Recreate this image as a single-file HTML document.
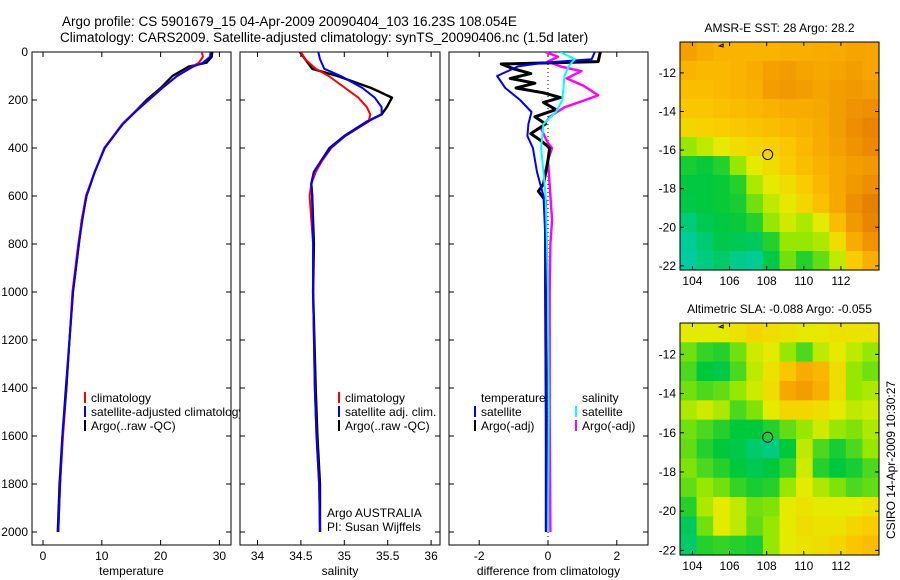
<!DOCTYPE html>
<html><head><meta charset="utf-8"><title>Argo profile</title>
<style>
html,body{margin:0;padding:0;background:#fff;}
svg{display:block;font-family:"Liberation Sans",Arial,sans-serif;}
text{fill:#000;}
</style></head>
<body>
<svg id="fig" width="900" height="580" viewBox="0 0 900 580" xmlns="http://www.w3.org/2000/svg">
<defs>
<clipPath id="clipL"><rect x="0" y="0" width="240" height="580"/></clipPath>
<clipPath id="cp1"><rect x="32" y="52" width="199" height="493"/></clipPath>
<clipPath id="cp2"><rect x="240" y="52" width="200" height="493"/></clipPath>
<clipPath id="cp3"><rect x="449" y="52" width="199" height="493"/></clipPath>
</defs>
<text x="62" y="26" font-size="13.5">Argo profile: CS 5901679_15 04-Apr-2009 20090404_103 16.23S 108.054E</text>
<text x="60" y="42" font-size="13.5">Climatology: CARS2009. Satellite-adjusted climatology: synTS_20090406.nc (1.5d later)</text>
<g id="panels"></g>
<g id="maps"></g>
<text transform="translate(895,460) rotate(-90)" text-anchor="middle" font-size="12">CSIRO 14-Apr-2009 10:30:27</text>
</svg>
<script>
// ---------- data ----------
const depthTicks = [0,200,400,600,800,1000,1200,1400,1600,1800,2000];
const tempTicks = [0,10,20,30];
const salTicks = [34,34.5,35,35.5,36];
const salTickLabels = ['34','34.5','35','35.5','36'];
const diffTicks = [-2,0,2];

const tDepth = [0,20,45,60,100,150,200,250,300,400,500,600,700,800,1000,1200,1400,1600,1800,2000];
const tClim  = [27.0,27.2,26.5,25.4,22.8,20.2,17.9,15.6,13.5,10.4,8.8,7.3,6.6,6.0,5.0,4.5,4.0,3.4,2.9,2.6];
const tSat   = [28.5,28.4,27.2,25.6,22.8,20.3,18.0,15.7,13.6,10.5,8.8,7.4,6.7,6.1,5.1,4.5,4.0,3.3,2.9,2.6];
const tArgo  = [28.8,28.7,27.8,24.8,22.0,20.0,17.6,15.6,13.5,10.5,8.8,7.4,6.6,6.1,5.1,4.5,3.9,3.3,2.8,2.5];

const sDepth = [0,30,70,100,150,190,230,260,290,350,400,450,500,550,600,800,1000,1400,1600,1800,2000];
const sClim  = [34.50,34.55,34.67,34.82,35.01,35.16,35.26,35.30,35.28,35.01,34.85,34.75,34.67,34.62,34.60,34.64,34.64,34.66,34.68,34.71,34.72];
const sSat   = [34.70,34.72,34.77,34.96,35.21,35.35,35.43,35.43,35.27,35.01,34.84,34.74,34.65,34.62,34.63,34.64,34.64,34.66,34.68,34.71,34.72];
const sArgo  = [34.49,34.55,34.63,34.92,35.31,35.55,35.49,35.43,35.26,35.00,34.83,34.74,34.65,34.62,34.63,34.65,34.64,34.67,34.69,34.72,34.72];

const dTSatDepth = [0,30,45,60,100,150,200,250,300,350,400,500,600,800,1000,1500,2000];
const dTSat      = [1.36,1.27,-0.13,-0.87,-1.48,-1.24,-0.81,-0.48,-0.57,-0.60,-0.44,-0.32,-0.13,-0.07,-0.07,-0.06,-0.05];
const dTArgoDepth = [0,40,50,70,90,110,130,150,170,190,210,240,270,300,340,370,400,450,550,580,620,700,1000,1500,2000];
const dTArgo      = [1.52,1.46,-1.36,-1.0,-0.5,-1.1,-0.38,-0.93,-0.13,0.36,-0.13,0.23,-0.38,-0.07,-0.5,-0.2,0.05,0.0,-0.13,-0.28,-0.07,-0.07,-0.07,-0.05,-0.05];
const dSSatDepth = [0,30,60,100,200,250,300,400,500,600,800,1000,1500,2000];
const dSSat      = [0.36,0.78,0.60,0.48,0.42,0.23,-0.13,-0.20,-0.13,-0.07,-0.03,0.0,0.02,0.0];
const dSArgoDepth = [0,20,40,60,80,110,140,180,200,230,270,320,380,400,450,600,700,800,1000,1500,2000];
const dSArgo      = [-0.07,0.29,-0.01,0.36,0.97,0.54,1.03,1.46,1.09,0.48,0.05,-0.20,0.0,0.12,0.0,0.07,0.12,0.07,0.05,0.05,0.07];

const latTicks = [-12,-14,-16,-18,-20,-22];
const latTickLabels = ['-12','-14','-16','-18','-20','-22'];
const lonTicks = [104,106,108,110,112];
const floatLon = 108.054, floatLat = -16.23;

const sstGrid = [
[.82,.78,.75,.75,.75,.75,.77,.77,.78,.79,.81,.81],
[.75,.73,.73,.75,.78,.82,.84,.81,.80,.81,.83,.81],
[.71,.71,.73,.75,.77,.83,.85,.83,.81,.83,.85,.83],
[.68,.68,.70,.72,.74,.76,.78,.78,.80,.83,.87,.89],
[.62,.63,.65,.67,.69,.71,.73,.76,.79,.83,.89,.93],
[.45,.50,.55,.60,.62,.64,.68,.73,.78,.82,.87,.91],
[.28,.26,.30,.45,.55,.60,.66,.71,.76,.80,.83,.85],
[.24,.24,.26,.30,.48,.55,.60,.66,.73,.80,.85,.89],
[.22,.24,.26,.28,.40,.50,.56,.62,.70,.80,.89,.95],
[.12,.20,.24,.26,.30,.45,.52,.48,.55,.72,.85,.93],
[.05,.14,.22,.20,.18,.30,.45,.45,.48,.60,.78,.87],
[.03,.10,.16,.08,.06,.22,.40,.30,.38,.50,.66,.77]];
const slaGrid = [
[.55,.55,.55,.58,.62,.60,.58,.56,.56,.58,.58,.58],
[.40,.32,.30,.40,.52,.55,.45,.35,.50,.55,.50,.45],
[.35,.25,.22,.35,.50,.58,.68,.78,.74,.60,.45,.40],
[.40,.35,.38,.45,.52,.60,.80,.83,.77,.60,.45,.48],
[.48,.52,.48,.35,.42,.55,.62,.62,.60,.55,.50,.52],
[.40,.35,.30,.25,.25,.30,.38,.45,.52,.45,.42,.48],
[.38,.30,.25,.22,.15,.10,.25,.50,.35,.28,.35,.45],
[.42,.35,.30,.25,.20,.25,.32,.52,.30,.25,.28,.35],
[.38,.45,.40,.32,.28,.30,.45,.55,.48,.42,.35,.38],
[.30,.48,.55,.50,.40,.42,.55,.58,.55,.55,.55,.58],
[.18,.40,.55,.50,.38,.45,.55,.60,.58,.58,.62,.65],
[.15,.30,.32,.30,.28,.45,.55,.58,.60,.62,.68,.72]];

// ---------- scales ----------
const TOP=52, BOT=545;
const yD = d => TOP + 0.24*d;
const xT = v => 43 + 5.88*v;
const xS = v => 257.5 + 86.8*(v-34);
const xDf = v => 548 + 34.4*v;
const LON0=103.33, PXLON=18.56;
const mx = lon => 680 + (lon-LON0)*PXLON;
const my1 = lat => 42 + (-10.4-lat)*19.3;
const my2 = lat => 323 + (-10.4-lat)*19.6;

const NS='http://www.w3.org/2000/svg';
function mk(tag, attrs, parent){const e=document.createElementNS(NS,tag);for(const k in attrs)e.setAttribute(k,attrs[k]);parent.appendChild(e);return e;}
const panels=document.getElementById('panels');
const maps=document.getElementById('maps');

function line(depths, vals, xf, color, w, g){
  let d='';
  for(let i=0;i<depths.length;i++){d+=(i?'L':'M')+xf(vals[i]).toFixed(1)+','+yD(depths[i]).toFixed(1);}
  const p=mk('path',{d:d,fill:'none',stroke:color,'stroke-width':w,'stroke-linejoin':'round'},g);
  return p;
}

function axesBox(x0,x1,name,xticks,xf,labels,showDepthLabels,xtitle){
  const g=mk('g',{},panels);
  
  
  mk('rect',{x:x0,y:TOP,width:x1-x0,height:BOT-TOP,fill:'#fff',stroke:'#000','stroke-width':1},g);
  depthTicks.forEach(d=>{
    mk('line',{x1:x0,x2:x0+5,y1:yD(d),y2:yD(d),stroke:'#000'},g);
    mk('line',{x1:x1-5,x2:x1,y1:yD(d),y2:yD(d),stroke:'#000'},g);
    if(showDepthLabels){const t=mk('text',{x:x0-4,y:yD(d)+4,'font-size':12,'text-anchor':'end'},g);t.textContent=d;
      
      }
  });
  xticks.forEach((v,i)=>{
    mk('line',{x1:xf(v),x2:xf(v),y1:BOT,y2:BOT-5,stroke:'#000'},g);
    mk('line',{x1:xf(v),x2:xf(v),y1:TOP,y2:TOP+5,stroke:'#000'},g);
    const t=mk('text',{x:xf(v),y:560,'font-size':12,'text-anchor':'middle'},g);t.textContent=labels[i];
    
    
  });
  const tt=mk('text',{x:(x0+x1)/2,y:575,'font-size':12,'text-anchor':'middle'},g);tt.textContent=xtitle;
  
  
  return g;
}

// Panel 1: temperature
const p1=axesBox(32,231,'temperature-panel',tempTicks,xT,tempTicks.map(String),true,'temperature');
const s1=mk('g',{'clip-path':'url(#cp1)'},p1);
line(tDepth,tArgo,xT,'#000',2.2,s1);
line(tDepth,tClim,xT,'#f00',2,s1);
line(tDepth,tSat,xT,'#00f',2,s1);
// Panel 2: salinity
const p2=axesBox(240,440,'salinity-panel',salTicks,xS,salTickLabels,false,'salinity');
const s2=mk('g',{'clip-path':'url(#cp2)'},p2);
line(sDepth,sArgo,xS,'#000',2.4,s2);
line(sDepth,sClim,xS,'#f00',2,s2);
line(sDepth,sSat,xS,'#00f',2,s2);
// Panel 3: difference
const p3=axesBox(449,648,'difference-panel',diffTicks,xDf,diffTicks.map(String),false,'difference from climatology');
const s3=mk('g',{'clip-path':'url(#cp3)'},p3);
mk('line',{x1:xDf(0),x2:xDf(0),y1:TOP,y2:BOT,stroke:'#000','stroke-dasharray':'1,3'},s3);
line(dSArgoDepth,dSArgo,xDf,'#f0f',2.4,s3);
line(dTArgoDepth,dTArgo,xDf,'#000',3,s3);
line(dTSatDepth,dTSat,xDf,'#00f',2,s3);
line(dSSatDepth,dSSat,xDf,'#0ff',2,s3);

// legends
function legendEntry(g,x,y,color,label,name){
  const e=mk('g',{},g);
  
  
  if(color) mk('rect',{x:x-7,y:y-10,width:2,height:11,fill:color},e);
  const t=mk('text',{x:x,y:y,'font-size':12},e);t.textContent=label;
}
const lg1=mk('g',{'clip-path':'url(#clipL)'},panels);


legendEntry(lg1,91,402,'#f00','climatology','legend-climatology');
legendEntry(lg1,91,416,'#00f','satellite-adjusted climatology','legend-satellite-adjusted');
legendEntry(lg1,91,430,'#000','Argo(..raw -QC)','legend-argo');
const lg2=mk('g',{},panels);


legendEntry(lg2,345,402,'#f00','climatology','legend-climatology');
legendEntry(lg2,345,416,'#00f','satellite adj. clim.','legend-satellite-adj');
legendEntry(lg2,345,430,'#000','Argo(..raw -QC)','legend-argo');
legendEntry(lg2,327,517,null,'Argo AUSTRALIA','argo-australia-label');
legendEntry(lg2,327,531,null,'PI: Susan Wijffels','pi-label');
const lg3=mk('g',{},panels);


legendEntry(lg3,481,402,null,'temperature','legend-temperature-heading');
legendEntry(lg3,481,416,'#00f','satellite','legend-temp-satellite');
legendEntry(lg3,481,430,'#000','Argo(-adj)','legend-temp-argo');
legendEntry(lg3,582,402,null,'salinity','legend-salinity-heading');
legendEntry(lg3,582,416,'#0ff','satellite','legend-sal-satellite');
legendEntry(lg3,582,430,'#f0f','Argo(-adj)','legend-sal-argo');

// ---------- maps ----------
const cmapStops=[[0,[0,205,175]],[0.25,[0,200,60]],[0.45,[150,232,0]],[0.55,[228,235,0]],[0.65,[250,205,0]],[0.76,[250,178,0]],[0.86,[240,150,0]],[1,[225,115,0]]];
function cmap(v){
  for(let i=1;i<cmapStops.length;i++){
    if(v<=cmapStops[i][0]){const a=cmapStops[i-1],b=cmapStops[i];const t=(v-a[0])/(b[0]-a[0]);
      return 'rgb('+a[1].map((c,k)=>Math.round(c+(b[1][k]-c)*t)).join(',')+')';}
  }
  return 'rgb(225,115,0)';
}
function drawMap(grid,top,bot,myf,name,title){
  const g=mk('g',{},maps);
  
  
  const L=680,R=879;
  const rows=grid.length, cols=grid[0].length;
  const cw=(R-L)/cols, ch=(bot-top)/rows;
  grid.forEach((row,r)=>row.forEach((v,c)=>{
    const cell=mk('rect',{x:(L+c*cw).toFixed(2),y:(top+r*ch).toFixed(2),width:(cw+0.6).toFixed(2),height:(ch+0.6).toFixed(2),fill:cmap(v)},g);
    
    
  }));
  mk('rect',{x:L,y:top,width:R-L,height:bot-top,fill:'none',stroke:'#000'},g);
  latTicks.forEach((lat,i)=>{
    const y=myf(lat);
    mk('line',{x1:L,x2:L+4,y1:y,y2:y,stroke:'#000'},g);
    mk('line',{x1:R-4,x2:R,y1:y,y2:y,stroke:'#000'},g);
    const t=mk('text',{x:L-4,y:y+4,'font-size':12,'text-anchor':'end'},g);t.textContent=latTickLabels[i];
    
    
  });
  lonTicks.forEach(lon=>{
    const x=mx(lon);
    mk('line',{x1:x,x2:x,y1:bot,y2:bot-4,stroke:'#000'},g);
    mk('line',{x1:x,x2:x,y1:top,y2:top+4,stroke:'#000'},g);
    const t=mk('text',{x:x,y:bot+15,'font-size':12,'text-anchor':'middle'},g);t.textContent=lon;
    
    
  });
  const c=mk('circle',{cx:mx(floatLon),cy:myf(floatLat),r:5,fill:'none',stroke:'#000','stroke-width':1},g);
  
  
  mk('path',{d:'M'+(mx(105.6)-3)+','+(top+4)+' l4,-2 l0,3 z',fill:'none',stroke:'#000','stroke-width':1},g);
  const tt=mk('text',{x:(L+R)/2,y:top-10,'font-size':12,'text-anchor':'middle'},g);tt.textContent=title;
  
  
}
drawMap(sstGrid,42,270,my1,'sst-map','AMSR-E SST: 28 Argo: 28.2');
drawMap(slaGrid,323,555,my2,'sla-map','Altimetric SLA: -0.088 Argo: -0.055');
</script>
</body></html>
